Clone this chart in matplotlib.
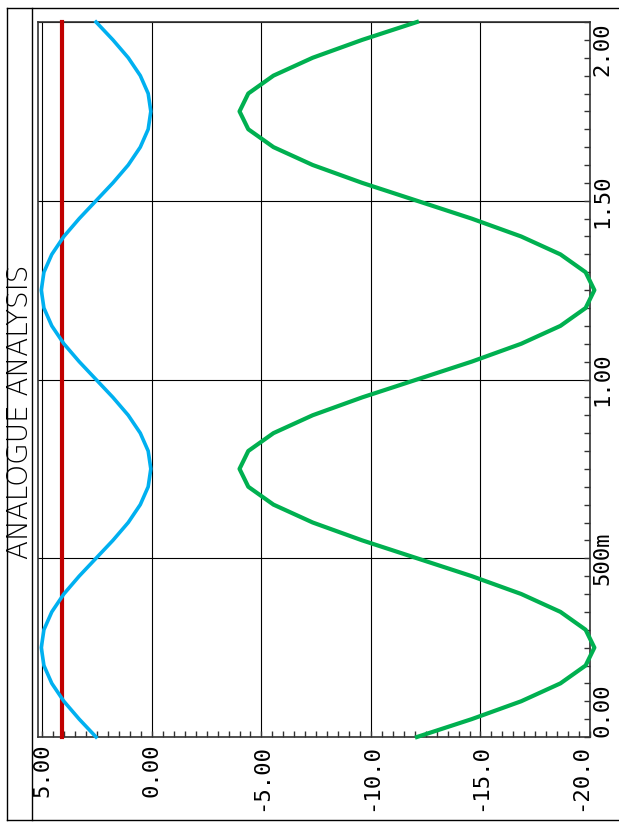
import matplotlib
matplotlib.use("Agg")
import matplotlib.pyplot as plt
from matplotlib.lines import Line2D
from matplotlib.ticker import MultipleLocator

# Tempo (eixo vertical) e valores, amostras a cada 0,05
tempo = [0.00, 0.05, 0.10, 0.15, 0.20, 0.25, 0.30, 0.35, 0.40, 0.45,
         0.50, 0.55, 0.60, 0.65, 0.70, 0.75, 0.80, 0.85, 0.90, 0.95,
         1.00, 1.05, 1.10, 1.15, 1.20, 1.25, 1.30, 1.35, 1.40, 1.45,
         1.50, 1.55, 1.60, 1.65, 1.70, 1.75, 1.80, 1.85, 1.90, 1.95, 2.00]

azul = [2.55, 3.32, 4.02, 4.57, 4.93, 5.05, 4.93, 4.57, 4.02, 3.32,
        2.55, 1.78, 1.08, 0.53, 0.17, 0.05, 0.17, 0.53, 1.08, 1.78,
        2.55, 3.32, 4.02, 4.57, 4.93, 5.05, 4.93, 4.57, 4.02, 3.32,
        2.55, 1.78, 1.08, 0.53, 0.17, 0.05, 0.17, 0.53, 1.08, 1.78, 2.55]

verde = [-12.1, -14.6, -16.86, -18.65, -19.8, -20.2, -19.8, -18.65, -16.86, -14.6,
         -12.1, -9.6, -7.34, -5.55, -4.4, -4.0, -4.4, -5.55, -7.34, -9.6,
         -12.1, -14.6, -16.86, -18.65, -19.8, -20.2, -19.8, -18.65, -16.86, -14.6,
         -12.1, -9.6, -7.34, -5.55, -4.4, -4.0, -4.4, -5.55, -7.34, -9.6, -12.1]

tempo_vermelho = [0.0, 2.0]
vermelho = [4.1, 4.1]

valores_ticks = [5, 0, -5, -10, -15, -20]
valores_labels = ["5.00", "0.00", "-5.00", "-10.0", "-15.0", "-20.0"]
tempo_ticks = [0.0, 0.5, 1.0, 1.5, 2.0]
tempo_labels = ["0.00", "500m", "1.00", "1.50", "2.00"]

W, H = 619, 832
fig = plt.figure(figsize=(W / 100, H / 100), dpi=100)
ax = fig.add_axes([38 / W, 1 - 737 / H, (590 - 38) / W, (737 - 22) / H])

ax.plot(vermelho, tempo_vermelho, color="#c00000", lw=3.0, clip_on=False, zorder=3)
ax.plot(azul, tempo, color="#00b0f0", lw=2.6, clip_on=False, zorder=4)
ax.plot(verde, tempo, color="#00b050", lw=3.0, clip_on=False, zorder=5)

ax.set_xlim(5.2, -20)
ax.set_ylim(0, 2.0)

mono = "DejaVu Sans Mono"
ax.set_xticks(valores_ticks)
ax.set_xticklabels(valores_labels, rotation=90, fontfamily=mono, fontsize=16, va="top")
ax.xaxis.set_minor_locator(MultipleLocator(0.5))
ax.yaxis.tick_right()
ax.set_yticks(tempo_ticks)
ax.set_yticklabels(tempo_labels, rotation=90, fontfamily=mono, fontsize=16, va="center")
ax.yaxis.set_minor_locator(MultipleLocator(0.05))

ax.tick_params(axis="x", which="both", direction="in", bottom=True, top=False,
               length=4, width=1, pad=5, color="#333333")
ax.tick_params(axis="y", which="both", direction="in", left=False, right=True,
               length=4, width=1, pad=2, color="#333333")

xl = ax.get_xticklabels()
xl[-1].set_ha("right")
yl = ax.get_yticklabels()
yl[0].set_va("bottom")
yl[-1].set_va("top")

ax.grid(True, which="major", color="black", lw=0.8)
for s in ax.spines.values():
    s.set_color("#333333")
    s.set_linewidth(1.2)

# moldura externa e faixa do título
ff = dict(color="black", lw=1.0)
x0, x1, xb = 7 / W, 1.01, 32 / W
y0, y1 = 1 - 820 / H, 1 - 8 / H
fig.add_artist(Line2D([x0, x1], [y1, y1], **ff))
fig.add_artist(Line2D([x0, x1], [y0, y0], **ff))
fig.add_artist(Line2D([x0, x0], [y0, y1], **ff))
fig.add_artist(Line2D([xb, xb], [y0, y1], **ff))

fig.text(20 / W, 1 - 412 / H, "ANALOGUE ANALYSIS", rotation=90, ha="center",
         va="center", fontsize=20, fontweight="light", fontfamily="DejaVu Sans")

fig.savefig("out.png", dpi=100)
